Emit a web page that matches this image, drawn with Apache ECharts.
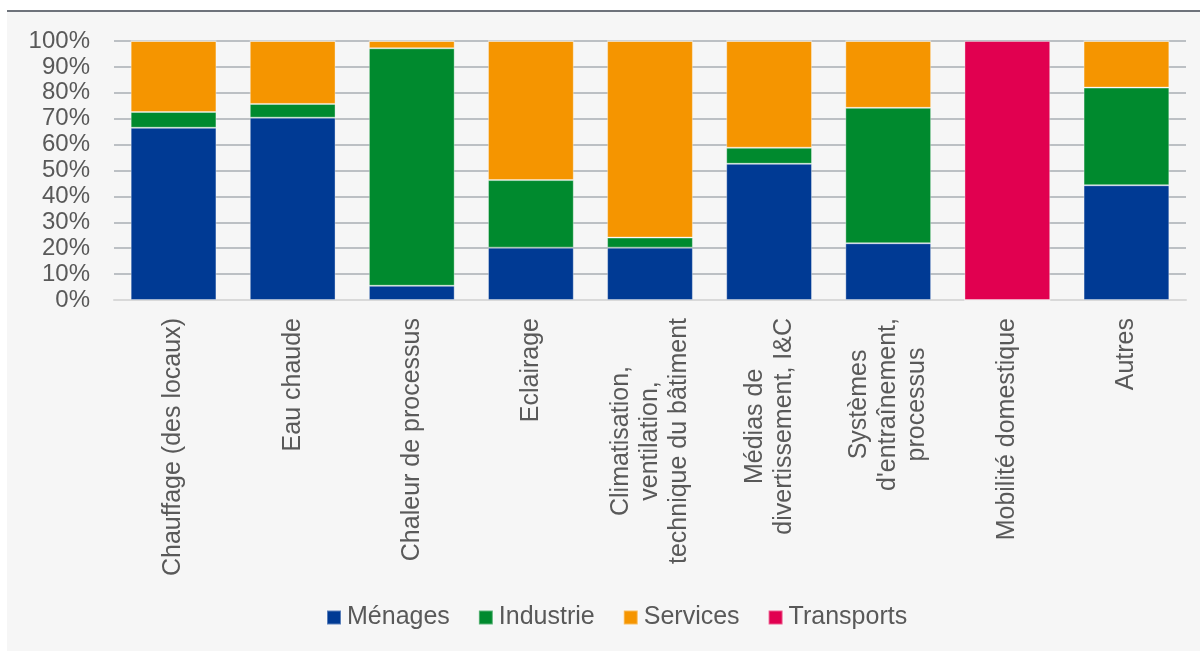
<!DOCTYPE html>
<html>
<head>
<meta charset="utf-8">
<script src="https://cdn.jsdelivr.net/npm/echarts@6/dist/echarts.min.js"></script>
<style>
  html, body { margin: 0; padding: 0; background: #ffffff; }
  #bg { position: absolute; left: 7px; top: 10px; width: 1193px; height: 641px; background: #f6f6f6; border-top: 2px solid #6e737b; box-sizing: border-box; }
  #chart { position: absolute; left: 0; top: 0; width: 1200px; height: 651px; }
</style>
</head>
<body>
<div id="bg"></div>
<div id="chart"></div>
<script>
const categories = [
  "Chauffage (des locaux)",
  "Eau chaude",
  "Chaleur de processus",
  "Eclairage",
  "Climatisation,\nventilation,\ntechnique du bâtiment",
  "Médias de\ndivertissement, I&C",
  "Systèmes\nd'entraînement,\nprocessus",
  "Mobilité domestique",
  "Autres"
];
const menages    = [66.5, 70.4,  5.5, 20.2, 20.2, 52.6, 21.9,   0, 44.3];
const industrie  = [ 6.1,  5.3, 91.7, 26.1,  3.9,  6.2, 52.3,   0, 37.7];
const services   = [27.4, 24.3,  2.8, 53.7, 75.9, 41.2, 25.8,   0, 18.0];
const transports = [   0,    0,    0,    0,    0,    0,    0, 100,    0];
const seriesNames = ["Ménages", "Industrie", "Services", "Transports"];
const yTicks = [0, 10, 20, 30, 40, 50, 60, 70, 80, 90, 100];

const colors = ["#003a94", "#008a2e", "#f59500", "#e10050"];
const seriesData = [menages, industrie, services, transports];
const FONT = "'Liberation Sans', Arial, sans-serif";

const chart = echarts.init(document.getElementById('chart'), null, { renderer: 'canvas' });
const option = {
  backgroundColor: 'transparent',
  animation: false,
  color: colors,
  grid: { left: 114, right: 14, top: 41, bottom: 351, containLabel: false },
  legend: {
    left: 321,
    top: 600,
    icon: 'rect',
    itemWidth: 14,
    itemHeight: 14,
    itemGap: 28,
    textStyle: { fontFamily: FONT, fontSize: 25, color: '#595959', padding: [0, 0, 0, 1] },
    data: seriesNames
  },
  xAxis: {
    type: 'category',
    data: categories,
    axisLine: { show: true, lineStyle: { color: '#d9d9d9', width: 2 } },
    axisTick: { show: false },
    axisLabel: {
      rotate: 90,
      margin: 18,
      interval: 0,
      fontFamily: FONT,
      fontSize: 25,
      lineHeight: 29,
      color: '#595959',
      formatter: function (v) {
        return v.split('\n').map(function (l) { return '{c|' + l + '}'; }).join('\n');
      },
      rich: { c: { align: 'center', fontFamily: FONT, fontSize: 25, lineHeight: 29, color: '#595959' } }
    }
  },
  yAxis: {
    type: 'value',
    min: yTicks[0],
    max: yTicks[yTicks.length - 1],
    interval: 10,
    axisLine: { show: false },
    axisTick: { show: false },
    splitLine: { show: true, lineStyle: { color: '#bcc0c4', width: 2 } },
    axisLabel: {
      margin: 24,
      fontFamily: FONT,
      fontSize: 24,
      color: '#595959',
      formatter: '{value}%'
    }
  },
  series: seriesNames.map(function (name, i) {
    return {
      name: name,
      type: 'bar',
      stack: 'total',
      barCategoryGap: '28%',
      data: seriesData[i],
      itemStyle: { color: colors[i], borderColor: 'rgba(255,255,255,0.35)', borderWidth: 1 }
    };
  })
};
chart.setOption(option);
</script>
</body>
</html>
